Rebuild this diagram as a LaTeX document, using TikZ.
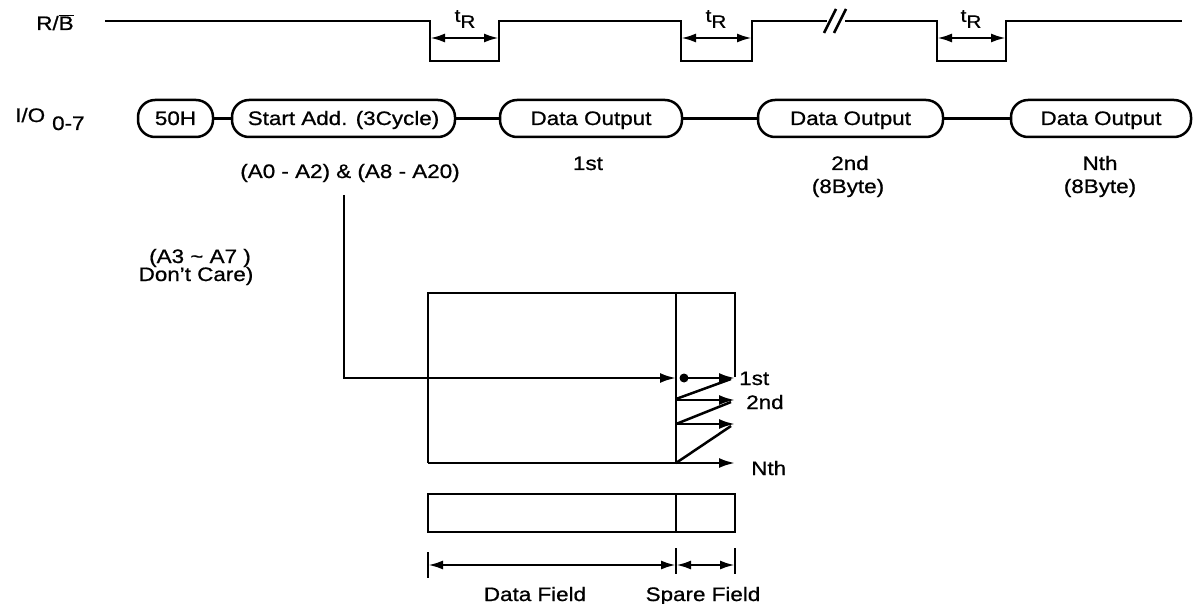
\documentclass[tikz,border=0pt]{standalone}
\usepackage{fontspec}
\setmainfont{Liberation Sans}[FakeStretch=1.15,FakeBold=0.8]
\usetikzlibrary{arrows.meta}
\begin{document}
\begin{tikzpicture}[x=1pt,y=-1pt, line width=2.5pt,
  font=\fontsize{19.5}{21}\selectfont,
  pill/.style={draw, rounded corners=17pt, minimum height=37pt, inner sep=0pt, text height=13pt, text depth=0pt},
  lbl/.style={inner sep=0pt, anchor=base},
  arr/.style={-{Latex[length=16pt,width=10pt]}},
  darr/.style={{Latex[length=15pt,width=9pt]}-{Latex[length=15pt,width=9pt]}},
]
\useasboundingbox (0,0) rectangle (1193,604);

% ---- R/B signal ----
\node[lbl] (rb) at (55,30) {R/$\overline{\mbox{B}}$};
\draw (105,21) -- (430,21) -- (430,61) -- (499,61) -- (499,21) -- (681,21) -- (681,61) -- (752,61) -- (752,21) -- (827,21);
\draw (845,21) -- (937,21) -- (937,61) -- (1006,61) -- (1006,21) -- (1182,21);
\draw (824,33) -- (836,9);
\draw (834,33) -- (846,9);
\draw[darr] (430,38) -- (499,38);
\draw[darr] (681,38) -- (752,38);
\draw[darr] (937,38) -- (1006,38);
\node[inner sep=0pt] (tr1) at (465,19) {\fontsize{18}{18}\selectfont t\raisebox{-6pt}{R}};
\node[inner sep=0pt] (tr2) at (716,19) {\fontsize{18}{18}\selectfont t\raisebox{-6pt}{R}};
\node[inner sep=0pt] (tr3) at (971,19) {\fontsize{18}{18}\selectfont t\raisebox{-6pt}{R}};

% ---- I/O row ----
\node[lbl, anchor=base west] (io) at (14,122) {I/O\hspace{7pt}\raisebox{-8pt}{0-7}};
\node[pill, minimum width=75pt] (p0) at (175.5,118.5) {50H};
\node[pill, minimum width=223pt] (p1) at (343.5,118.5) {Start Add. (3Cycle)};
\node[pill, minimum width=182pt] (p2) at (591,118.5) {Data Output};
\node[pill, minimum width=185pt] (p3) at (850.5,118.5) {Data Output};
\node[pill, minimum width=180pt] (p4) at (1101,118.5) {Data Output};
\draw (p0) -- (p1);
\draw (p1) -- (p2);
\draw (p2) -- (p3);
\draw (p3) -- (p4);

\node[lbl] (addr) at (350,178) {(A0 - A2) \& (A8 - A20)};
\node[lbl] (l1) at (588,170) {1st};
\node[lbl] (l2) at (850,170) {2nd};
\node[lbl] (l2b) at (848,193) {(8Byte)};
\node[lbl] (l3) at (1100,170) {Nth};
\node[lbl] (l3b) at (1100,193) {(8Byte)};

\node[lbl] (dc1) at (200,263) {(A3 \textasciitilde\ A7 )};
\node[lbl] (dc2) at (196,281) {Don't Care)};

% ---- page block ----
\coordinate (vs) at (344,195);
\coordinate (vb) at (344,378);
\coordinate (d1) at (676,378);
\draw[arr] (vs) -- (vb) -- (d1);

\draw (735,377) -- (735,293) -- (428,293) -- (428,463);
\draw (676,293) -- (676,463);
\draw[arr] (428,463) -- (735,463);
\fill (684,378) circle (4.5pt);
\draw[arr] (684,378) -- (735,378);
\draw (676,399) -- (731,379);
\draw[arr] (676,400) -- (735,400);
\draw (676,424) -- (731,402);
\draw[arr] (676,424) -- (735,424);
\draw (676,463) -- (731,426);
\node[lbl, anchor=base west] (n1) at (738,385) {1st};
\node[lbl, anchor=base west] (n2) at (745,409) {2nd};
\node[lbl, anchor=base west] (n3) at (750,475) {Nth};

% ---- spare row ----
\draw (428,494) rectangle (735,532);
\draw (676,494) -- (676,532);
\draw (428,552) -- (428,578);
\draw (676,548) -- (676,574);
\draw (735,548) -- (735,574);
\draw[darr] (428,565) -- (676,565);
\draw[darr] (676,565) -- (735,565);
\node[lbl] (df) at (535,601) {Data Field};
\node[lbl] (sf) at (703,601) {Spare Field};
\end{tikzpicture}
\end{document}
